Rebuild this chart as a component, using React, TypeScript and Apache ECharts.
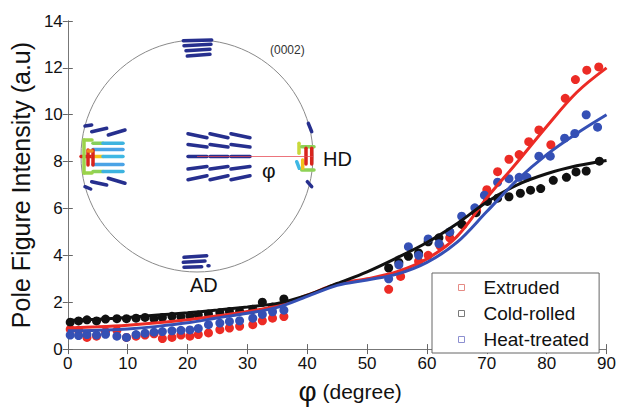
import React, { useEffect, useRef } from "react";
import * as echarts from "echarts";

// ---------- data ----------
const lowAngles = [0.4, 1.8, 3.2, 4.8, 6.3, 8.2, 9.8, 11.4, 12.9, 14.4, 15.8, 17.4, 18.9, 20.4, 21.8, 23.5, 25.4, 27.0, 28.7, 30.9, 32.5, 34.2, 36.1];
const extrudedLowValues = [0.85, 0.8, 0.5, 0.55, 0.75, 0.8, 0.5, 0.55, 0.6, 0.65, 0.45, 0.5, 0.6, 0.55, 0.62, 0.69, 0.83, 0.9, 0.97, 1.04, 1.21, 1.32, 1.39];
const coldLowValues = [1.15, 1.2, 1.25, 1.2, 1.28, 1.3, 1.3, 1.32, 1.35, 1.3, 1.35, 1.4, 1.38, 1.42, 1.45, 1.5, 1.55, 1.6, 1.62, 1.7, 2.0, 1.8, 2.14];
const heatLowValues = [0.6, 0.58, 0.62, 0.6, 0.63, 0.55, 0.5, 0.62, 0.68, 0.72, 0.75, 0.78, 0.8, 0.82, 0.88, 1.04, 1.11, 1.18, 1.21, 1.32, 1.48, 1.59, 1.66];

const extrudedHighAngles = [53.6, 55.6, 58.6, 60.2, 62.2, 63.8, 66.0, 68.3, 70.0, 71.8, 73.7, 75.4, 77.0, 78.7, 80.7, 83.1, 84.8, 86.7, 88.7];
const extrudedHighValues = [2.55, 3.1, 3.75, 4.0, 4.4, 4.75, 5.3, 5.9, 6.8, 7.57, 8.1, 8.3, 8.85, 9.35, 8.72, 10.7, 11.5, 11.9, 12.04];
const coldHighAngles = [53.6, 55.3, 56.9, 58.6, 60.2, 62.0, 63.8, 65.8, 68.2, 70.1, 71.8, 73.7, 75.6, 77.3, 79.0, 81.1, 83.3, 84.9, 86.6, 88.8];
const coldHighValues = [3.46, 3.7, 3.96, 4.1, 4.58, 4.75, 5.0, 5.33, 5.82, 6.3, 6.44, 6.5, 6.65, 6.78, 6.85, 7.2, 7.33, 7.56, 7.6, 8.02];
const heatHighAngles = [53.6, 55.3, 56.9, 58.6, 60.2, 62.0, 63.8, 65.8, 68.0, 69.6, 71.8, 73.7, 75.4, 76.7, 78.7, 80.6, 83.0, 84.7, 86.6, 88.5];
const heatHighValues = [3.0, 3.6, 4.37, 4.0, 4.7, 4.5, 5.0, 5.67, 6.03, 6.57, 7.12, 7.27, 7.33, 7.33, 8.23, 8.23, 9.0, 9.2, 10.0, 9.47];

const fitAngles = [0, 5, 10, 15, 20, 25, 30, 35, 40, 45, 50, 55, 60, 65, 70, 75, 80, 85, 90];
const extrudedFit = [0.9, 0.95, 1.02, 1.12, 1.25, 1.42, 1.6, 1.85, 2.3, 2.78, 3.0, 3.3, 3.85, 4.8, 6.45, 7.95, 9.5, 10.95, 12.0];
const coldFit = [1.22, 1.27, 1.35, 1.45, 1.55, 1.67, 1.8, 1.95, 2.3, 2.8, 3.3, 3.9, 4.55, 5.35, 6.28, 7.0, 7.48, 7.82, 8.05];
const heatFit = [0.78, 0.8, 0.86, 0.97, 1.12, 1.33, 1.53, 1.78, 2.25, 2.72, 2.95, 3.2, 3.7, 4.55, 5.87, 7.2, 8.3, 9.2, 10.0];

const seriesNames = ["Extruded", "Cold-rolled", "Heat-treated"];
const seriesColors = ["#ec2b25", "#111111", "#3550b5"];
const legendMarkerColors = ["#e58a84", "#7a7a7a", "#8c8fd0"];

const xTickValues = [0, 10, 20, 30, 40, 50, 60, 70, 80, 90];
const yTickValues = [0, 2, 4, 6, 8, 10, 12, 14];

// ---------- inset pole figure (decoration) ----------
const NAVY = "#262f8e";
const insetCircle = { cx: 197, cy: 156, r: 116 };
// [x1, y1, x2, y2, colour]
const insetDashes: [number, number, number, number, string][] = [
  // top cluster
  [183.3, 40.7, 211.7, 40, NAVY], [184, 45.7, 211, 44.3, NAVY], [186, 50.7, 210, 49.3, NAVY], [187.3, 56, 210, 54.3, NAVY],
  // bottom cluster
  [184, 257.3, 206.7, 255.7, NAVY], [183.3, 262.3, 205, 261, NAVY], [184, 267.3, 201.7, 266.7, NAVY], [208, 265.7, 209, 265.7, NAVY],
  // centre cluster
  [188, 133.7, 207, 137.7, NAVY], [210, 133.7, 228, 137.7, NAVY], [231, 133.7, 250, 137.7, NAVY],
  [188, 144.5, 207, 147, NAVY], [210, 144.5, 228, 147, NAVY], [231, 144.5, 250, 147, NAVY],
  [188, 156.5, 207, 156.5, NAVY], [210, 156.5, 228, 156.5, NAVY], [231, 156.5, 250, 156.5, NAVY],
  [188, 169, 207, 166.5, NAVY], [210, 169, 228, 166.5, NAVY], [231, 169, 250, 166.5, NAVY],
  [188, 179.7, 207, 175.7, NAVY], [210, 179.7, 228, 175.7, NAVY], [231, 179.7, 250, 175.7, NAVY],
  // left cluster
  [85, 126, 91.7, 125, NAVY], [91.7, 131.7, 106.7, 128.3, NAVY], [108.3, 135, 125, 130, NAVY],
  [91.7, 181.7, 106.7, 185, NAVY], [108.3, 178.3, 125, 183.3, NAVY], [85, 186.7, 90.7, 189, NAVY],
  [93, 143.3, 103, 143.3, "#86cf5c"], [103, 143.3, 123, 143.3, "#3db3df"],
  [93, 149.5, 123, 149.5, "#4aa3e6"],
  [81, 156.5, 93, 156.5, "#d8251c"], [93, 156.5, 103, 156.5, "#f2c21c"], [103, 156.5, 123, 156.5, "#3fb8e4"],
  [93, 164.5, 123, 164.5, "#4aa3e6"],
  [93, 171.5, 103, 171.5, "#8ed257"], [103, 171.5, 123, 171.5, "#3db3df"],
  [84, 140, 84, 173, "#9bd34a"], [84, 140, 92, 140, "#9bd34a"], [84, 173, 92, 173, "#9bd34a"],
  [88, 150, 88, 165, "#d8251c"], [93, 150, 93, 165, "#d8251c"], [88, 151, 92, 151, "#f08a1e"],
  // right cluster
  [308.3, 123.3, 311.7, 131.7, NAVY], [307.3, 181.7, 311.7, 186.7, NAVY],
  [299, 143.3, 299, 153.3, "#c9d93a"], [296.7, 161.7, 299.3, 168.3, "#3fb8e4"],
  [301.7, 146.7, 314, 146.7, "#8ed257"], [301.7, 170, 314, 170, "#8ed257"], [302.7, 160, 302.7, 168.3, "#f2c21c"],
  [306, 148.3, 306, 164, "#d8251c"], [311.7, 148.3, 311.7, 164, "#d8251c"],
];

const FONT = "'Liberation Sans', Arial, Helvetica, sans-serif";

function pairs(xs: number[], ys: number[]) {
  return xs.map((x, i) => [x, ys[i]]);
}

export default function App() {
  const ref = useRef<HTMLDivElement>(null);
  useEffect(() => {
    if (!ref.current) return;
    const chart = echarts.init(ref.current, undefined, { renderer: "svg" });

    const scatterData = [
      pairs(lowAngles, extrudedLowValues).concat(pairs(extrudedHighAngles, extrudedHighValues)),
      pairs(lowAngles, coldLowValues).concat(pairs(coldHighAngles, coldHighValues)),
      pairs(lowAngles, heatLowValues).concat(pairs(heatHighAngles, heatHighValues)),
    ];
    const fits = [extrudedFit, coldFit, heatFit];

    const scatterSeries = seriesNames.map((name, i) => ({
      name,
      type: "scatter",
      symbol: "circle",
      symbolSize: 9,
      itemStyle: { color: seriesColors[i], opacity: 1 },
      data: scatterData[i],
      z: 2,
    }));
    const lineSeries = seriesNames.map((name, i) => ({
      name: name + " fit",
      type: "line",
      smooth: 0.35,
      showSymbol: false,
      lineStyle: { color: seriesColors[i], width: 3 },
      data: pairs(fitAngles, fits[i]),
      z: 3,
    }));

    const graphics: any[] = [
      {
        type: "circle",
        shape: { cx: insetCircle.cx, cy: insetCircle.cy, r: insetCircle.r },
        style: { fill: "none", stroke: "#8a8a8a", lineWidth: 1 },
        z: 10,
      },
      ...insetDashes.map((d) => ({
        type: "line",
        shape: { x1: d[0], y1: d[1], x2: d[2], y2: d[3] },
        style: { stroke: d[4], lineWidth: 3.5, lineCap: "round" },
        z: 11,
      })),
      {
        type: "line",
        shape: { x1: insetCircle.cx, y1: 156.5, x2: 313, y2: 156.5 },
        style: { stroke: "rgba(230,70,80,0.75)", lineWidth: 1 },
        z: 12,
      },
      {
        type: "text",
        x: 270,
        y: 44,
        style: { text: "(0002)", font: `12px ${FONT}`, fill: "#333" },
        z: 12,
      },
      {
        type: "text",
        x: 323,
        y: 149,
        style: { text: "HD", font: `20px ${FONT}`, fill: "#111" },
        z: 12,
      },
      {
        type: "text",
        x: 190,
        y: 275,
        style: { text: "AD", font: `20px ${FONT}`, fill: "#111" },
        z: 12,
      },
      {
        type: "text",
        x: 262,
        y: 160,
        style: { text: "φ", font: `21px ${FONT}`, fill: "#111" },
        z: 12,
      },
    ];

    const axisCommon = {
      type: "value" as const,
      axisLine: { show: true, lineStyle: { color: "#777", width: 1 } },
      axisTick: { show: true, inside: true, length: 5, lineStyle: { color: "#666" } },
      splitLine: { show: false },
    };

    chart.setOption({
      animation: false,
      backgroundColor: "#fff",
      grid: { left: 63, right: 10, top: 21, bottom: 52, containLabel: false },
      xAxis: [
        {
          ...axisCommon,
          position: "bottom",
          min: xTickValues[0],
          max: xTickValues[xTickValues.length - 1],
          interval: 10,
          axisLabel: { fontSize: 17, color: "#111", margin: 6, fontFamily: FONT },
          name: "{phi|φ} (degree)",
          nameLocation: "middle",
          nameGap: 16,
          nameTextStyle: {
            fontSize: 21,
            color: "#111",
            fontFamily: FONT,
            padding: [0, 0, 0, 26],
            rich: { phi: { fontSize: 28, fontFamily: FONT, color: "#111" } },
          },
        },
        {
          ...axisCommon,
          position: "top",
          min: xTickValues[0],
          max: xTickValues[xTickValues.length - 1],
          interval: 10,
          axisLabel: { show: false },
        },
      ],
      yAxis: [
        {
          ...axisCommon,
          position: "left",
          min: yTickValues[0],
          max: yTickValues[yTickValues.length - 1],
          interval: 2,
          axisLabel: { fontSize: 17, color: "#111", margin: 5, fontFamily: FONT },
          name: "Pole Figure Intensity (a.u)",
          nameLocation: "middle",
          nameGap: 31,
          nameTextStyle: { fontSize: 25, color: "#111", fontFamily: FONT },
        },
        {
          ...axisCommon,
          position: "right",
          min: yTickValues[0],
          max: yTickValues[yTickValues.length - 1],
          interval: 2,
          axisLabel: { show: false },
        },
      ],
      legend: {
        show: true,
        orient: "vertical",
        left: 432,
        top: 273,
        backgroundColor: "#fff",
        borderColor: "#666",
        borderWidth: 1,
        borderRadius: 0,
        padding: [5, 10, 4, 26],
        itemGap: 7,
        itemWidth: 6,
        itemHeight: 6,
        icon: "rect",
        textStyle: { fontSize: 19, color: "#111", fontFamily: FONT, lineHeight: 19, padding: [0, 0, 0, 14] },
        data: seriesNames.map((name, i) => ({
          name,
          itemStyle: { color: "#fff", borderColor: legendMarkerColors[i], borderWidth: 1 },
        })),
        z: 20,
      },
      series: [...scatterSeries, ...lineSeries],
      graphic: graphics,
    });

    return () => chart.dispose();
  }, []);

  return (
    <div
      ref={ref}
      style={{ position: "fixed", left: 0, top: 0, width: 619, height: 410, background: "#fff" }}
    />
  );
}
